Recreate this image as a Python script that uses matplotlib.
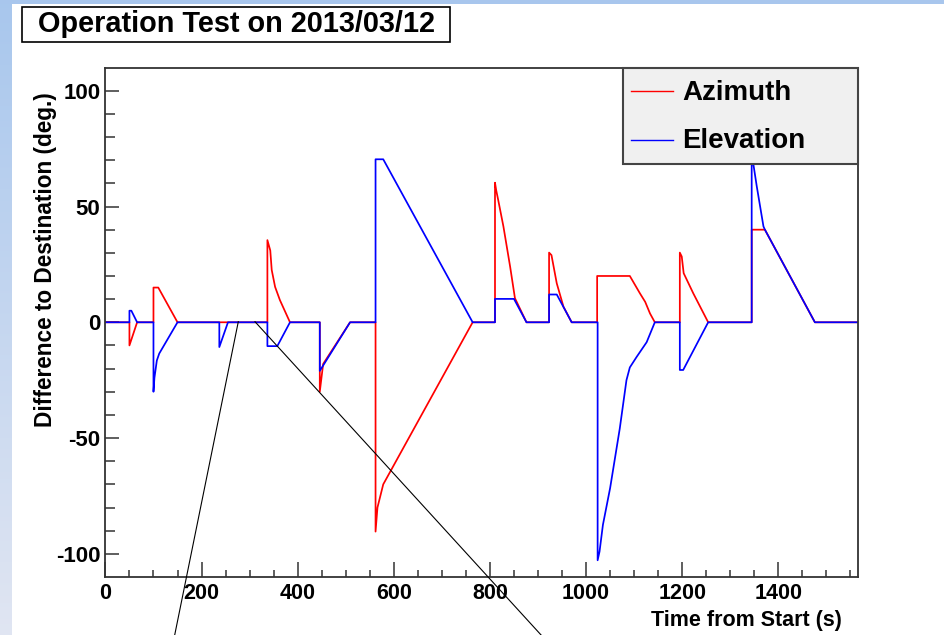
import numpy as np
import matplotlib
matplotlib.use("Agg")
import matplotlib.pyplot as plt
from matplotlib.patches import Rectangle
from matplotlib.lines import Line2D
from matplotlib.ticker import MultipleLocator, FixedLocator

plt.rcParams['font.family'] = ['Liberation Sans', 'DejaVu Sans']
plt.rcParams['font.weight'] = 'bold'
plt.rcParams['axes.unicode_minus'] = False

# ---------------- data ----------------
title = "Operation Test on 2013/03/12"
series_names = ["Azimuth", "Elevation"]
x_label = "Time from Start (s)"
y_label = "Difference to Destination (deg.)"

az_t = [0, 50, 50, 66, 100, 100, 110, 150, 337, 337, 343, 346, 353, 363, 384,
        446, 446, 453, 509, 562, 562, 566, 578, 764,
        810.5, 810.5, 813, 817, 828, 842, 852, 876,
        923, 923, 928, 939, 953, 970,
        1023, 1023, 1091, 1112, 1123, 1133, 1143,
        1195, 1195, 1199, 1203, 1223, 1254,
        1344.5, 1344.5, 1372, 1476, 1566]
az_v = [0, 0, -10, 0, 0, 15, 15, 0, 0, 35.5, 31, 22.6, 15.3, 9.6, 0,
        0, -30, -18, 0, 0, -90.4, -80, -70, 0,
        0, 60.3, 57, 53, 41.4, 24, 10.4, 0,
        0, 30.1, 29, 16.8, 6.7, 0,
        0, 20, 20, 12.5, 8.8, 3.8, 0,
        0, 30.1, 28.4, 21.2, 12.5, 0,
        0, 40, 40, 0, 0]

el_t = [0, 50, 50, 54, 66, 100, 100, 102, 107, 112, 150, 237, 237, 255,
        337, 337, 357.6, 384, 446, 446, 509, 562, 562, 578, 764,
        810.5, 810.5, 850, 876, 923, 923, 939, 970,
        1024, 1024, 1028, 1035, 1050, 1070, 1084, 1091, 1105, 1126, 1143,
        1195, 1195, 1202, 1254,
        1344.5, 1344.5, 1348, 1355, 1362, 1369, 1372, 1476, 1566]
el_v = [0, 0, 5, 5, 0, 0, -30, -24, -16.5, -13.5, 0, 0, -10.7, 0,
        0, -10.3, -10.3, 0, 0, -21, 0, 0, 70.4, 70.4, 0,
        0, 10.1, 10.1, 0, 0, 12, 12, 0,
        0, -102.8, -99, -87.5, -71.6, -46, -25, -19.5, -15, -8.6, 0,
        0, -20.6, -20.6, 0,
        0, 73, 68.3, 58.8, 50.1, 41.4, 40, 0, 0]

x_ticks = [0, 200, 400, 600, 800, 1000, 1200, 1400]
x_tick_labels = ["0", "200", "400", "600", "800", "1000", "1200", "1400"]
y_ticks = [-100, -50, 0, 50, 100]
y_tick_labels = ["-100", "-50", "0", "50", "100"]

# ---------------- figure ----------------
W, H = 944, 635
fig = plt.figure(figsize=(W / 100, H / 100), dpi=100)
fig.patch.set_facecolor('white')

def fx(x):
    return x / W

def fy(y):
    return 1 - y / H

# slide background decoration (left gradient strip + top band)
bg = fig.add_axes([0, 0, 1, 1], zorder=-10)
bg.axis('off')
img = np.ones((H, W, 3))
top_c = np.array([0.66, 0.78, 0.93])
bot_c = np.array([0.88, 0.90, 0.95])
frac = np.linspace(0, 1, H)[:, None]
grad = top_c[None, :] * (1 - frac) + bot_c[None, :] * frac
img[:, :12, :] = grad[:, None, :]
img[:4, :, :] = top_c
bg.imshow(img, extent=(0, W, H, 0), aspect='auto', interpolation='nearest')
bg.set_xlim(0, W)
bg.set_ylim(H, 0)

# main axes
L, R, T, B = 105.4, 858.3, 68.3, 576.5
ax = fig.add_axes([fx(L), fy(B), (R - L) / W, (B - T) / H], zorder=1)
ax.set_facecolor('white')

ax.plot(az_t, az_v, color='#ff0000', lw=1.25, label=series_names[0])
ax.plot(el_t, el_v, color='#0000ff', lw=1.25, label=series_names[1])

ax.set_xlim(0, 1566.3)
ax.set_ylim(-109.8, 109.7)

ax.xaxis.set_major_locator(FixedLocator(x_ticks))
ax.set_xticklabels(x_tick_labels)
ax.xaxis.set_minor_locator(MultipleLocator(50))
ax.yaxis.set_major_locator(FixedLocator(y_ticks))
ax.set_yticklabels(y_tick_labels)
ax.yaxis.set_minor_locator(MultipleLocator(10))

ax.tick_params(axis='x', which='major', direction='in', length=10.8, width=1.1,
               color='#333333', labelsize=15.5, pad=4.5, top=False)
ax.tick_params(axis='x', which='minor', direction='in', length=5.0, width=1.1,
               color='#333333', top=False)
ax.tick_params(axis='y', which='major', direction='in', length=10, width=1.1,
               color='#333333', labelsize=16, pad=3.5, right=False)
ax.tick_params(axis='y', which='minor', direction='in', length=7, width=1.1,
               color='#333333', right=False)
for lab in ax.get_xticklabels() + ax.get_yticklabels():
    lab.set_fontweight('bold')
for s in ax.spines.values():
    s.set_color('#333333')
    s.set_linewidth(1.3)

# axis titles
fig.text(fx(842), fy(626), x_label, ha='right', va='baseline',
         fontsize=15.5, fontweight='bold')
fig.text(fx(46), fy(92), y_label, ha='center', va='top', rotation=90,
         fontsize=16.3, fontweight='bold')

# title box
fig.add_artist(Rectangle((fx(21.7), fy(42.3)), (450 - 21.7) / W, (42.3 - 7.3) / H,
                         transform=fig.transFigure, facecolor='white',
                         edgecolor='black', lw=1.2, zorder=5))
fig.text(fx(236), fy(31.7), title, ha='center', va='baseline',
         fontsize=20.8, fontweight='bold', zorder=6)

# legend box (ROOT style)
fig.add_artist(Rectangle((fx(622.7), fy(163.5)), (858.3 - 622.7) / W, (163.5 - 68.3) / H,
                         transform=fig.transFigure, facecolor='#f0f0f0',
                         edgecolor='#444444', lw=1.5, zorder=5))
leg_colors = ['#ff0000', '#0000ff']
leg_y = [91, 139.5]
leg_base = [99.8, 147.8]
for name, c, yl, yb in zip(series_names, leg_colors, leg_y, leg_base):
    fig.add_artist(Line2D([fx(631), fx(673)], [fy(yl), fy(yl)], color=c, lw=1.0,
                          transform=fig.transFigure, zorder=6))
    fig.text(fx(682), fy(yb), name, ha='left', va='baseline', fontsize=20,
             fontweight='bold', zorder=6)

# callout lines from the slide
fig.add_artist(Line2D([fx(238.3), fx(174.5)], [fy(321.7), fy(636)], color='black',
                      lw=0.8, transform=fig.transFigure, zorder=10))
fig.add_artist(Line2D([fx(255), fx(542)], [fy(321.7), fy(636)], color='black',
                      lw=0.8, transform=fig.transFigure, zorder=10))

fig.savefig('out.png', dpi=100)
